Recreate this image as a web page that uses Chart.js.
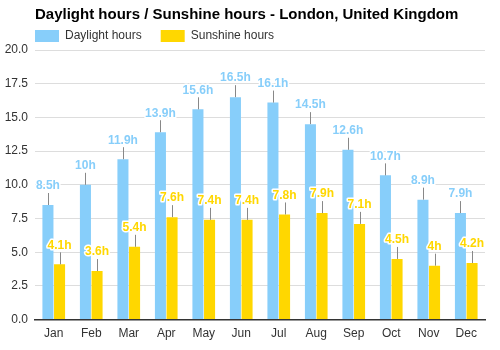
<!DOCTYPE html>
<html>
<head>
<meta charset="utf-8">
<script src="https://cdn.jsdelivr.net/npm/chart.js@4/dist/chart.umd.min.js"></script>
<style>
  body { margin: 0; background: #fff; }
  canvas { display: block; }
</style>
</head>
<body>
<canvas id="chart" width="500" height="350"></canvas>
<script>
const months = ["Jan", "Feb", "Mar", "Apr", "May", "Jun", "Jul", "Aug", "Sep", "Oct", "Nov", "Dec"];
const daylightHours = [8.5, 10, 11.9, 13.9, 15.6, 16.5, 16.1, 14.5, 12.6, 10.7, 8.9, 7.9];
const sunshineHours = [4.1, 3.6, 5.4, 7.6, 7.4, 7.4, 7.8, 7.9, 7.1, 4.5, 4, 4.2];

const FONT = "'Liberation Sans', Arial, sans-serif";
const BLUE = "#87CEFA";
const GOLD = "#FFD700";
const LEGEND_PAD = 19;

// thin grey stick above every bar + the value label on top of it
const barLabels = {
    id: 'barLabels',
    afterLayout(chart) {
        // legend starts at the plot's left edge, not the canvas edge
        chart.legend.left = chart.chartArea.left - LEGEND_PAD;
    },
    afterDatasetsDraw(chart) {
        const ctx = chart.ctx;
        const metas = chart.data.datasets.map((ds, i) => chart.getDatasetMeta(i));
        ctx.save();
        ctx.strokeStyle = "#888";
        ctx.lineWidth = 1;
        metas.forEach(meta => meta.data.forEach(bar => {
            let x = Math.round(bar.x) + 0.5;
            ctx.beginPath();
            ctx.moveTo(x, bar.y);
            ctx.lineTo(x, bar.y - 12);
            ctx.stroke();
        }));
        ctx.font = "bold 12px " + FONT;
        ctx.textAlign = "center";
        ctx.textBaseline = "bottom";
        ctx.lineJoin = "round";
        metas.forEach((meta, i) => {
            let ds = chart.data.datasets[i];
            meta.data.forEach((bar, j) => {
                let txt = ds.data[j] + "h";
                ctx.strokeStyle = "#fff";
                ctx.lineWidth = 3;
                ctx.strokeText(txt, bar.x, bar.y - 13);
                ctx.fillStyle = ds.backgroundColor;
                ctx.fillText(txt, bar.x, bar.y - 13);
            });
        });
        ctx.restore();
    }
};

new Chart(document.getElementById('chart'), {
    type: 'bar',
    data: {
        labels: months,
        datasets: [
            { label: "Daylight hours", data: daylightHours, backgroundColor: BLUE },
            { label: "Sunshine hours", data: sunshineHours, backgroundColor: GOLD }
        ]
    },
    options: {
        responsive: false,
        animation: false,
        layout: { padding: { left: 0, right: 15, top: 0, bottom: 2 } },
        datasets: { bar: { categoryPercentage: 0.62, barPercentage: 0.95 } },
        plugins: {
            title: {
                display: true,
                text: "Daylight hours / Sunshine hours - London, United Kingdom",
                align: 'start',
                fullSize: false,
                color: "#000",
                font: { family: FONT, size: 15, weight: 'bold' },
                padding: { top: 6, bottom: -13 }
            },
            legend: {
                align: 'start',
                maxHeight: 39,
                labels: {
                    boxWidth: 24, boxHeight: 12, padding: LEGEND_PAD,
                    color: "#333",
                    font: { family: FONT, size: 12 }
                }
            },
            tooltip: { enabled: false }
        },
        scales: {
            x: {
                grid: { display: false, drawTicks: false },
                border: { color: "#333", width: 1.5 },
                ticks: { color: "#333", font: { family: FONT, size: 12 }, padding: 7 }
            },
            y: {
                min: 0, max: 20,
                afterFit(scale) { scale.width = 35; },
                grid: { color: "#ddd", drawTicks: false },
                border: { display: false },
                ticks: {
                    stepSize: 2.5, padding: 7, color: "#333",
                    font: { family: FONT, size: 12 },
                    callback: v => v.toFixed(1)
                }
            }
        }
    },
    plugins: [barLabels]
});
</script>
</body>
</html>
